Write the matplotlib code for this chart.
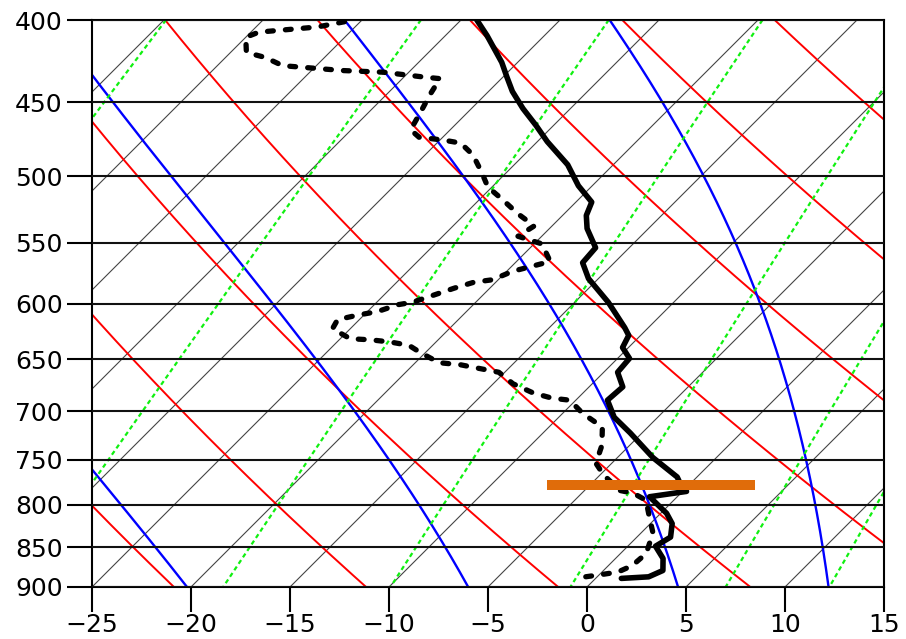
import numpy as np
import matplotlib
matplotlib.use("Agg")
from matplotlib import pyplot as plt
from matplotlib.ticker import NullLocator, FixedLocator, FixedFormatter

# axis ticks
pressure_ticks = [400, 450, 500, 550, 600, 650, 700, 750, 800, 850, 900]
temp_ticks = [-25, -20, -15, -10, -5, 0, 5, 10, 15]

# background lines
isotherm_temps = list(range(-80, 20, 5))            # degC at 900 hPa
theta_values = list(range(250, 360, 10))             # dry adiabats, K
moist_start_t = [-20.2, -6.0, 4.6, 12.2]             # moist adiabats, degC at 900 hPa
mixing_ratios = [0.1, 0.4, 1, 2, 4, 7, 10]           # g/kg

# sounding: temperature
temp_p = [400, 409, 425, 434, 443, 454, 465, 476, 492, 507, 519, 529, 539, 554,
          566, 579, 599, 621, 628, 639, 649, 662, 676, 689, 706, 722, 748, 769,
          781, 785, 791, 810, 822, 838, 849, 864, 879, 887, 889]
temp_t = [-34.2, -32.9, -30.8, -29.8, -28.8, -27.4, -25.9, -24.5, -22.3, -20.7,
          -19.2, -18.8, -18.1, -16.7, -16.6, -15.5, -13.3, -11.2, -10.6, -10.3,
          -9.4, -9.3, -8.3, -8.4, -7.2, -5.6, -3.2, -1.0, -0.2, 0.2, -1.4, 0.3,
          1.1, 1.7, 1.4, 2.4, 3.0, 2.6, 1.3]

# sounding: dewpoint
dew_p = [401, 404, 405, 406, 407, 410, 419, 422, 427, 428, 430, 431, 434, 435,
         445, 456, 468, 473, 475, 477, 485, 497, 508, 516, 528, 537, 545, 551,
         565, 569, 573, 580, 582, 587, 599, 601, 607, 610, 614, 622, 631, 632,
         634, 637, 644, 653, 655, 662, 673, 682, 687, 689, 702, 716, 735, 754,
         767, 784, 787, 795, 814, 833, 858, 873, 881, 885, 889]
dew_t = [-40.8, -41.9, -42.8, -43.7, -44.6, -45.0, -44.2, -43.0, -41.7, -40.6,
         -38.4, -36.3, -34.0, -33.1, -32.8, -32.4, -32.0, -31.2, -29.8, -28.8,
         -27.6, -26.3, -25.2, -24.0, -22.3, -20.9, -21.2, -19.6, -18.3, -19.0,
         -19.7, -20.3, -21.1, -21.8, -23.2, -23.8, -24.5, -25.3, -26.1, -25.9,
         -24.5, -23.4, -22.3, -21.2, -20.2, -18.8, -17.6, -15.3, -14.0, -12.5,
         -11.3, -10.3, -9.0, -7.3, -6.4, -5.8, -4.8, -3.2, -2.4, -1.4, -0.4,
         0.6, 1.3, 1.2, 0.8, -0.1, -1.1]

# orange marker
bar_p = 778
bar_x = [-2.0, 8.5]

P_BOT, P_TOP = 900.0, 400.0
T_MIN, T_MAX = -25.0, 15.0

fig = plt.figure(figsize=(9.06, 6.39), dpi=100)
ax = fig.add_axes([92 / 906, 52 / 639, 792 / 906, 567 / 639])

# skew so that isotherms run at 45 degrees on screen
bbox = ax.get_position()
w_px = bbox.width * fig.get_figwidth()
h_px = bbox.height * fig.get_figheight()
K = (T_MAX - T_MIN) / w_px * h_px / np.log(P_BOT / P_TOP)


def skew(t, p):
    return np.asarray(t) + K * np.log(P_BOT / np.asarray(p))


p_line = np.linspace(P_TOP, P_BOT, 300)

# isotherms
for t0 in isotherm_temps:
    ax.plot(skew(np.full_like(p_line, t0), p_line), p_line, color="#444444", lw=0.8, zorder=1)

# dry adiabats
for th in theta_values:
    t = th * (p_line / 1000.0) ** 0.2857 - 273.15
    ax.plot(skew(t, p_line), p_line, color="#ff0000", lw=1.4, zorder=2)


def es(tc):
    return 6.112 * np.exp(17.67 * tc / (tc + 243.5))


# moist adiabats (pseudo-adiabatic, simple integration)
Rd, cp, Lv, eps = 287.04, 1005.7, 2.501e6, 0.622


def dtdp(T, p):
    e = es(T - 273.15)
    rs = eps * e / (p - e)
    return (Rd * T + Lv * rs) / (p * (cp + Lv * Lv * rs * eps / (Rd * T * T)))


p_moist = np.linspace(P_BOT, P_TOP, 501)
for t0 in moist_start_t:
    T = t0 + 273.15
    ts = [T]
    for i in range(len(p_moist) - 1):
        p0, p1 = p_moist[i], p_moist[i + 1]
        dp = p1 - p0
        k1 = dtdp(T, p0)
        k2 = dtdp(T + k1 * dp, p1)
        T = T + 0.5 * (k1 + k2) * dp
        ts.append(T)
    ts = np.array(ts) - 273.15
    ax.plot(skew(ts, p_moist), p_moist, color="#0000ff", lw=1.7, zorder=2)

# mixing ratio lines
for w in mixing_ratios:
    e = w * p_line / (622.0 + w)
    a = np.log(e / 6.112)
    t = 243.5 * a / (17.67 - a)
    ax.plot(skew(t, p_line), p_line, color="#10f010", lw=1.6,
            linestyle=(0, (2.0, 1.5)), zorder=2)

# isobars
for p in pressure_ticks:
    ax.axhline(p, color="#111111", lw=1.5, zorder=3)

# sounding
ax.plot(skew(temp_t, temp_p), temp_p, color="black", lw=4.0,
        solid_joinstyle="round", solid_capstyle="round", zorder=5)
ax.plot(skew(dew_t, dew_p), dew_p, color="black", lw=3.8,
        linestyle=(0, (1.1, 2.3)), dash_capstyle="round", zorder=5)

ax.plot(bar_x, [bar_p, bar_p], color="#e06c0a", lw=7.2,
        solid_capstyle="butt", zorder=6)

ax.set_yscale("log")
ax.set_ylim(P_BOT, P_TOP)
ax.set_xlim(T_MIN, T_MAX)
ax.yaxis.set_major_locator(FixedLocator(pressure_ticks))
ax.yaxis.set_major_formatter(FixedFormatter([str(p) for p in pressure_ticks]))
ax.yaxis.set_minor_locator(NullLocator())
ax.set_xticks(temp_ticks)
ax.set_xticklabels([str(t).replace("-", "\u2212") for t in temp_ticks])

ax.tick_params(axis="both", direction="out", length=18, width=1.5,
               labelsize=18, color="black")
ax.tick_params(axis="y", pad=3)
ax.tick_params(axis="x", pad=1)
for s in ax.spines.values():
    s.set_linewidth(1.5)
    s.set_color("black")

fig.savefig("out.png", dpi=100)
